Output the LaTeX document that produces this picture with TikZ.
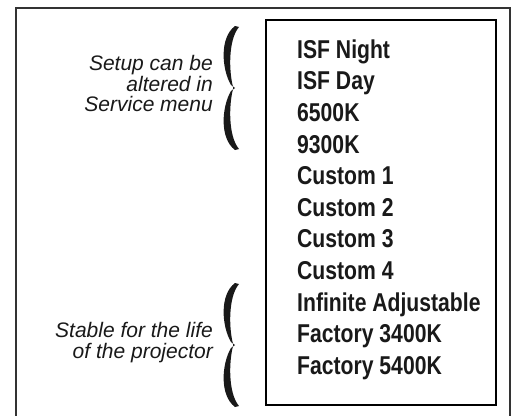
\documentclass[tikz,border=0pt]{standalone}
\usepackage{fontspec}
\setmainfont{Liberation Sans}
\newfontfamily\narrowfont[FakeStretch=0.82]{Liberation Sans}

\begin{document}
\begin{tikzpicture}[x=1pt,y=-1pt]

% styles
\tikzset{
  frame/.style={line width=1.8pt, draw=black!80},
  listbox/.style={draw, line width=2.6pt},
  item/.style={anchor=base west, inner sep=0pt, text=black!90,
    font=\narrowfont\fontsize{25.8}{30}\selectfont\bfseries},
  note/.style={anchor=base east, inner sep=0pt, text=black!90,
    font=\fontsize{21}{24}\selectfont\itshape},
  brace/.style={fill=black!90},
}

\useasboundingbox (0,0) rectangle (519,415);

% outer frame (runs off the bottom)
\draw[frame] (16,420) -- (16,8) -- (510,8) -- (510,420);

% list of modes
\draw[listbox] (266,20) rectangle (496,405);
\foreach \mode [count=\i from 0] in {ISF Night, ISF Day, 6500K, 9300K,
    Custom 1, Custom 2, Custom 3, Custom 4, Infinite Adjustable,
    Factory 3400K, Factory 5400K}
  \node[item] (mode\i) at (297,58.3+31.6*\i) {\mode};

% notes
\node[note] (setup1) at (213,70.7) {Setup can be};
\node[note] (setup2) at (213,91) {altered in};
\node[note] (setup3) at (213,111.3) {Service menu};
\node[note] (stable1) at (213,337.3) {Stable for the life};
\node[note] (stable2) at (213,358) {of the projector};

% braces
\foreach \cy in {88,345}{
  \begin{scope}[shift={(232,\cy)}]
    \fill[brace] (3,-62)
      .. controls (-13,-50) and (-10,-18) .. (-1,-3)
      -- (3,0) -- (-1,3)
      .. controls (-10,18) and (-13,50) .. (3,62)
      -- (7,61)
      .. controls (-4,48) and (-3,16) .. (1,1.2)
      -- (1,-1.2)
      .. controls (-3,-16) and (-4,-48) .. (7,-61)
      -- cycle;
  \end{scope}
}

\end{tikzpicture}
\end{document}
